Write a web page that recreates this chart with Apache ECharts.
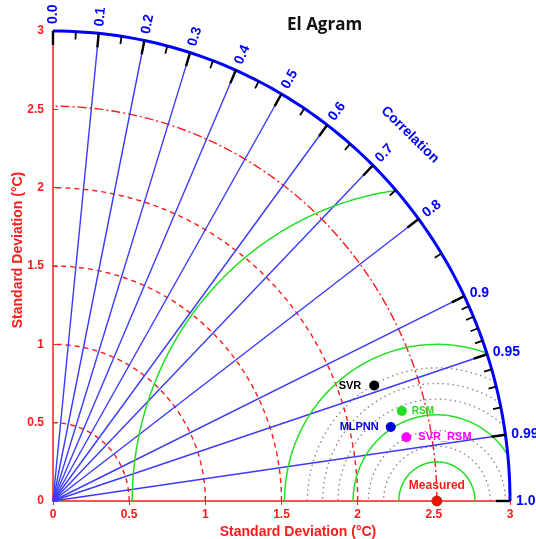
<!DOCTYPE html>
<html><head><meta charset="utf-8">
<script src="https://cdn.jsdelivr.net/npm/echarts@6/dist/echarts.min.js"></script>
<style>html,body{margin:0;padding:0;background:#fff}#c{width:536px;height:539px}</style>
</head><body><div id="c"></div>
<script>
// ---------- data ----------
const chartTitle = 'El Agram';
const axisTitle = 'Standard Deviation (°C)';
const corrTitle = 'Correlation';
const stdMax = 3;
const stdStep = 0.5;
const stdArcs = [0.5, 1, 1.5, 2];          // dashed red std circles
const refStd = 2.52;                        // measured std (dash-dot circle)
const corrLines = [0.1, 0.2, 0.3, 0.4, 0.5, 0.6, 0.7, 0.8, 0.9, 0.95, 0.99];
const corrLabelValues = [0, 0.1, 0.2, 0.3, 0.4, 0.5, 0.6, 0.7, 0.8, 0.9, 0.95, 0.99, 1.0];
const corrLabelTexts = ['0.0', '0.1', '0.2', '0.3', '0.4', '0.5', '0.6', '0.7', '0.8', '0.9', '0.95', '0.99', '1.0'];
const corrMajorTicks = [0, 0.1, 0.2, 0.3, 0.4, 0.5, 0.6, 0.7, 0.8, 0.9, 0.95, 0.99, 1.0];
const corrMinorTicks = [0.05, 0.15, 0.25, 0.35, 0.45, 0.55, 0.65, 0.75, 0.85, 0.91, 0.92, 0.93, 0.94, 0.96, 0.97, 0.98];
const rmsGreen = [0.25, 0.55, 1, 2];        // green centred RMS circles
const rmsGrey = [0.35, 0.45, 0.65, 0.75, 0.85]; // grey dotted RMS circles
const modelNames = ['SVR', 'RSM', 'MLPNN', 'SVR_RSM'];
const modelStd = [2.234, 2.361, 2.267, 2.355];
const modelCorr = [0.944, 0.970, 0.978, 0.985];
const measuredName = 'Measured';

// ---------- geometry helpers (built from the data above) ----------
function stdArc(r) {
  const pts = [];
  for (let d = 0; d <= 90; d += 1) {
    const t = d * Math.PI / 180;
    pts.push([r * Math.cos(t), r * Math.sin(t)]);
  }
  return pts;
}
function rmsArc(r) {
  const pts = [];
  let phiStart = 0;
  if (refStd + r > stdMax) {
    const xi = (stdMax * stdMax - r * r + refStd * refStd) / (2 * refStd);
    const yi = Math.sqrt(Math.max(0, stdMax * stdMax - xi * xi));
    phiStart = Math.atan2(yi, xi - refStd);
  }
  const n = 180;
  for (let i = 0; i <= n; i++) {
    const phi = phiStart + (Math.PI - phiStart) * i / n;
    const x = refStd + r * Math.cos(phi), y = r * Math.sin(phi);
    if (x < 0) break;
    pts.push([x, y]);
  }
  return pts;
}
function polar(std, corr) {
  const t = Math.acos(Math.min(1, corr));
  return [std * Math.cos(t), std * Math.sin(t)];
}

const FONT = '"Liberation Sans", Arial, sans-serif';
const RED = '#ff1a1a', BLUE = '#0000ff', LBLUE = '#3a3aff', GREEN = '#22e022', GREY = '#808080';
const series = [];

// std dashed arcs
stdArcs.forEach(r => series.push({
  type: 'line', data: stdArc(r), showSymbol: false, clip: false, silent: true, z: 2,
  lineStyle: { color: RED, width: 1.4, type: [5, 4] }
}));
// reference dash-dot arc
series.push({
  type: 'line', data: stdArc(refStd), showSymbol: false, clip: false, silent: true, z: 2,
  lineStyle: { color: RED, width: 1.4, type: [9, 3, 2, 3] }
});
// grey dotted RMS arcs
rmsGrey.forEach(r => series.push({
  type: 'line', data: rmsArc(r), showSymbol: false, clip: false, silent: true, z: 2,
  lineStyle: { color: GREY, width: 1.3, type: [1.5, 3.5] }
}));
// green RMS arcs
rmsGreen.forEach(r => series.push({
  type: 'line', data: rmsArc(r), showSymbol: false, clip: false, silent: true, z: 3,
  lineStyle: { color: GREEN, width: 1.5 }
}));
// radial correlation lines
series.push({
  type: 'custom', silent: true, z: 3,
  data: corrLines.map(c => [c]),
  renderItem: (params, api) => {
    const p0 = api.coord([0, 0]);
    const p1 = api.coord(polar(stdMax, api.value(0)));
    return { type: 'line', shape: { x1: p0[0], y1: p0[1], x2: p1[0], y2: p1[1] },
      style: { stroke: LBLUE, lineWidth: 1.4 } };
  }
});
// outer arc
series.push({
  type: 'line', data: stdArc(stdMax), showSymbol: false, clip: false, silent: true, z: 5,
  lineStyle: { color: BLUE, width: 3 }
});
// ticks on outer arc
function tickSeries(list, len, w) {
  return {
    type: 'custom', silent: true, z: 6,
    data: list.map(c => [c]),
    renderItem: (params, api) => {
      const p0 = api.coord([0, 0]);
      const p1 = api.coord(polar(stdMax, api.value(0)));
      const dx = p1[0] - p0[0], dy = p1[1] - p0[1], L = Math.hypot(dx, dy);
      return { type: 'line', shape: { x1: p1[0], y1: p1[1], x2: p1[0] - dx / L * len, y2: p1[1] - dy / L * len },
        style: { stroke: '#000', lineWidth: w } };
    }
  };
}
series.push(tickSeries(corrMajorTicks, 14, 2.4));
series.push(tickSeries(corrMinorTicks, 8, 1.8));
// correlation labels
series.push({
  type: 'custom', silent: true, z: 7,
  data: corrLabelValues.map((c, i) => [c, i]),
  renderItem: (params, api) => {
    const c = api.value(0), i = api.value(1);
    const p0 = api.coord([0, 0]);
    const p1 = api.coord(polar(stdMax, c));
    const dx = p1[0] - p0[0], dy = p1[1] - p0[1], L = Math.hypot(dx, dy);
    const ang = Math.atan2(-dy, dx);
    const rotated = c < 0.9;
    const off = rotated ? 7 : 6;
    return { type: 'text', x: p1[0] + dx / L * off, y: p1[1] + dy / L * off,
      rotation: rotated ? ang : 0,
      style: { text: corrLabelTexts[i], fill: BLUE, align: 'left', verticalAlign: 'middle',
        font: 'bold 14px ' + FONT } };
  }
});
// "Correlation" title along arc
series.push({
  type: 'custom', silent: true, z: 7,
  data: [[0.708, 3.31]],
  renderItem: (params, api) => {
    const p0 = api.coord([0, 0]);
    const p1 = api.coord(polar(api.value(1), api.value(0)));
    const ang = Math.atan2(-(p1[1] - p0[1]), p1[0] - p0[0]);
    return { type: 'text', x: p1[0], y: p1[1], rotation: ang - Math.PI / 2,
      style: { text: corrTitle, fill: BLUE, align: 'center', verticalAlign: 'middle',
        font: 'bold 14px ' + FONT } };
  }
});
// model points
const mColors = ['#000000', '#22dd22', '#0000dd', '#ff00ff'];
const mLabelPos = ['left', 'right', 'left', 'right'];
const mLabelDist = [8, 5, 7, 7];
const mFont = [11, 10, 11, 11];
modelNames.forEach((n, i) => series.push({
  type: 'scatter', name: n, z: 10, symbolSize: 10,
  data: [polar(modelStd[i], modelCorr[i])],
  itemStyle: { color: mColors[i], opacity: 1 },
  label: { show: true, formatter: n, position: mLabelPos[i], distance: mLabelDist[i],
    color: mColors[i], fontWeight: 'bold', fontSize: mFont[i], fontFamily: FONT }
}));
series.push({
  type: 'scatter', name: measuredName, z: 10, symbolSize: 10, clip: false,
  data: [polar(refStd, 1)],
  itemStyle: { color: '#ee1100', borderColor: '#aa2200', borderWidth: 0.8, opacity: 1 },
  label: { show: true, formatter: measuredName, position: 'top', distance: 4,
    color: RED, fontWeight: 'bold', fontSize: 12, fontFamily: FONT }
});

const axisCommon = {
  type: 'value', min: 0, max: stdMax, interval: stdStep,
  splitLine: { show: false },
  axisLine: { show: true, lineStyle: { color: RED, width: 1.5 } },
  axisLabel: { color: RED, fontWeight: 'bold', fontSize: 12, fontFamily: FONT },
  name: axisTitle, nameLocation: 'middle', nameMoveOverlap: false,
  nameTextStyle: { color: RED, fontWeight: 'bold', fontSize: 14, fontFamily: FONT }
};

const chart = echarts.init(document.getElementById('c'), null, { renderer: 'canvas' });
chart.setOption({
  animation: false,
  backgroundColor: '#fff',
  title: { text: chartTitle, left: 282, top: 12,
    textStyle: { color: '#111', fontWeight: 'bold', fontSize: 17, fontFamily: '"Open Sans", sans-serif' } },
  grid: { left: 53, right: 26, top: 31, bottom: 38, containLabel: false, outerBoundsMode: 'none' },
  xAxis: Object.assign({}, axisCommon, {
    axisTick: { show: true, length: 4, lineStyle: { color: RED } },
    axisLabel: Object.assign({}, axisCommon.axisLabel, { margin: 8 }),
    nameGap: 24,
    nameTextStyle: Object.assign({}, axisCommon.nameTextStyle, { padding: [0, 0, 0, 33] })
  }),
  yAxis: Object.assign({}, axisCommon, {
    axisTick: { show: true, length: 5, inside: true, lineStyle: { color: RED } },
    axisLabel: Object.assign({}, axisCommon.axisLabel, { margin: 9 }),
    nameGap: 28,
    nameTextStyle: Object.assign({}, axisCommon.nameTextStyle, { padding: [0, 0, 0, 32] })
  }),
  series: series
});
</script>
</body></html>
